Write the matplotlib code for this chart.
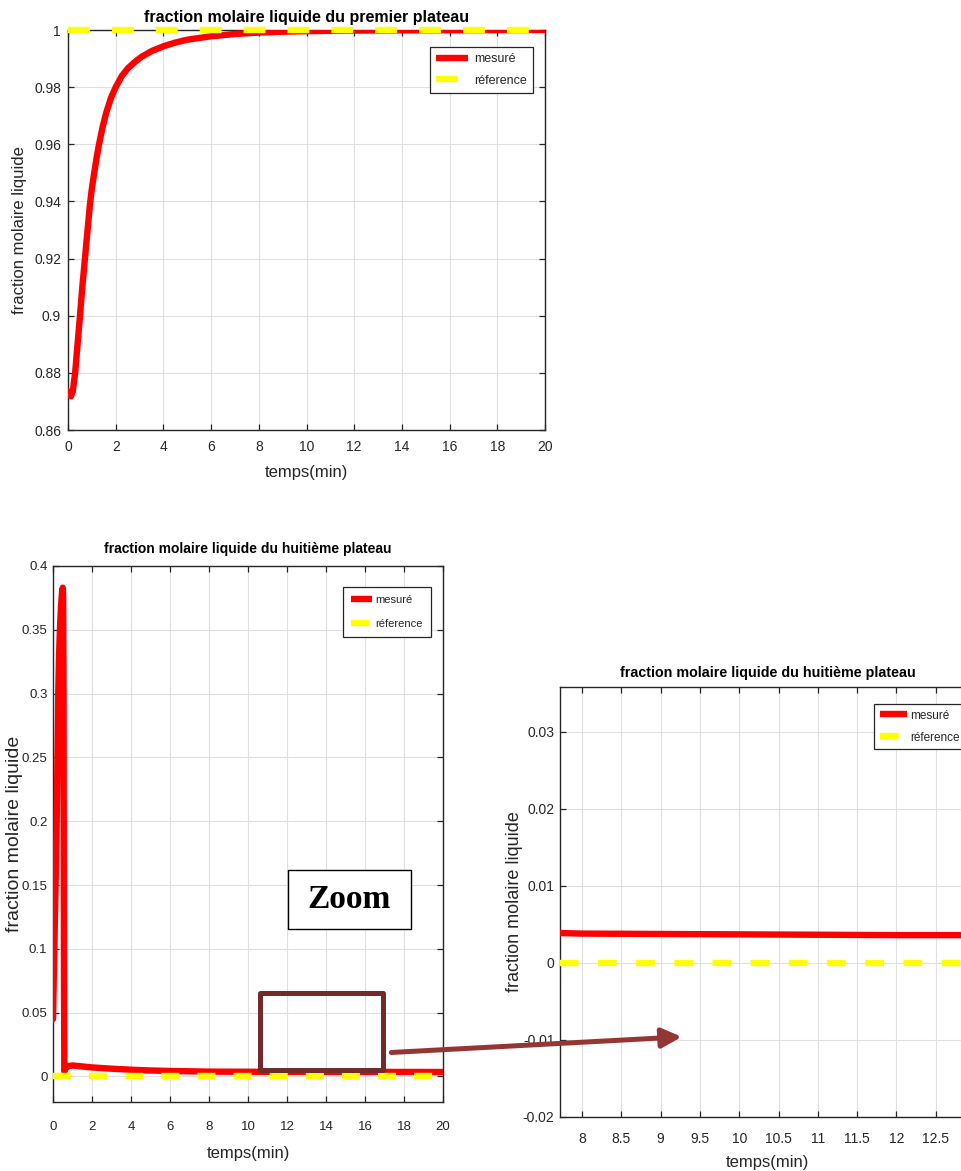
import matplotlib
matplotlib.use("Agg")
import matplotlib.pyplot as plt
from matplotlib import font_manager
from matplotlib.lines import Line2D
from matplotlib.patches import Rectangle, ConnectionPatch
from matplotlib.ticker import FuncFormatter

# ---------------- data ----------------
# liquid mole fraction, first tray (measured response)
t_tray1 = [0, 0.05, 0.12, 0.2, 0.3, 0.4, 0.5, 0.6, 0.71, 0.82, 0.92, 1.0,
           1.1, 1.2, 1.3, 1.45, 1.6, 1.8, 2.0, 2.25, 2.5, 2.8, 3.1, 3.5,
           4.0, 4.5, 5.0, 6.0, 7.0, 8.0, 9.0, 10.0, 12.0, 15.0, 20.0]
x_tray1 = [0.8735, 0.8722, 0.8718, 0.8735, 0.8800, 0.8900, 0.8997, 0.9100,
           0.9200, 0.9300, 0.9390, 0.9445, 0.9500, 0.9553, 0.9600, 0.9660,
           0.9710, 0.9762, 0.9800, 0.9838, 0.9865, 0.9888, 0.9907, 0.9926,
           0.9943, 0.9956, 0.9966, 0.9978, 0.9986, 0.9991, 0.9994, 0.9996,
           0.9998, 0.9999, 1.0000]
ref_tray1 = 1.0

# liquid mole fraction, eighth tray (measured response)
t_tray8 = [0, 0.05, 0.1, 0.15, 0.19, 0.23, 0.27, 0.31, 0.36, 0.41, 0.46,
           0.5, 0.52, 0.54, 0.56, 0.58, 0.65, 0.8, 1.0, 1.3, 1.6, 2.0, 3.0,
           4.0, 5.0, 6.0, 8.0, 10.0, 12.0, 15.0, 20.0]
x_tray8 = [0.045, 0.085, 0.125, 0.165, 0.200, 0.250, 0.300, 0.330, 0.352,
           0.368, 0.379, 0.383, 0.375, 0.300, 0.100, 0.004, 0.0065, 0.0082,
           0.0086, 0.0082, 0.0077, 0.0071, 0.0061, 0.0053, 0.0047, 0.0043,
           0.0038, 0.0037, 0.0036, 0.0036, 0.0035]
ref_tray8 = 0.0

t_span = [0, 20]

xticks_full = list(range(0, 21, 2))
yticks_tray1 = [0.86, 0.88, 0.90, 0.92, 0.94, 0.96, 0.98, 1.0]
yticks_tray8 = [0, 0.05, 0.1, 0.15, 0.2, 0.25, 0.3, 0.35, 0.4]
xticks_zoom = [8, 8.5, 9, 9.5, 10, 10.5, 11, 11.5, 12, 12.5]
yticks_zoom = [-0.02, -0.01, 0, 0.01, 0.02, 0.03]

labels = ["mesuré", "réference"]
title_tray1 = "fraction molaire liquide du premier plateau"
title_tray8 = "fraction molaire liquide du huitième plateau"
xlabel = "temps(min)"
ylabel = "fraction molaire liquide"

# ---------------- fonts ----------------
available = {f.name for f in font_manager.fontManager.ttflist}
REG = "Liberation Sans" if "Liberation Sans" in available else "DejaVu Sans"
SERIF = "Liberation Serif" if "Liberation Serif" in available else "DejaVu Serif"

plt.rcParams["lines.scale_dashes"] = False
plt.rcParams["font.family"] = [REG, "DejaVu Sans"]

INK = "#262626"
GRID = "#e0e0e0"
RED = "#ff0000"
YELLOW = "#ffff00"
LW = 4.6

fmt = FuncFormatter(lambda v, p: f"{v:g}")

W, H = 961, 1171
fig = plt.figure(figsize=(W / 100, H / 100), dpi=100)


def px_axes(left, top, right, bottom):
    return fig.add_axes([left / W, 1 - bottom / H, (right - left) / W,
                         (bottom - top) / H])


def style(ax, size, xpad, ypad):
    ax.set_axisbelow(True)
    ax.grid(True, color=GRID, lw=0.8)
    ax.tick_params(direction="in", top=True, right=True, length=4.5,
                   width=0.9, colors=INK, labelsize=size)
    ax.tick_params(axis="x", pad=xpad)
    ax.tick_params(axis="y", pad=ypad)
    for s in ax.spines.values():
        s.set_color(INK)
        s.set_linewidth(1.0)
    ax.xaxis.set_major_formatter(fmt)
    ax.yaxis.set_major_formatter(fmt)


def add_legend(ax, dash, anchor, size, hlen, tpad, lspace, bpad):
    handles = [Line2D([], [], color=RED, lw=LW, solid_capstyle="butt"),
               Line2D([], [], color=YELLOW, lw=LW, dashes=dash,
                      dash_capstyle="butt")]
    leg = ax.legend(handles, labels, loc="upper right",
                    bbox_to_anchor=anchor, borderaxespad=0, fontsize=size,
                    frameon=True, fancybox=False, edgecolor=INK,
                    framealpha=1, handlelength=hlen, handletextpad=tpad,
                    labelspacing=lspace, borderpad=bpad)
    leg.get_frame().set_linewidth(0.9)
    for txt in leg.get_texts():
        txt.set_color(INK)
    return leg


# ---------- panel 1 : first tray ----------
ax1 = px_axes(68, 30, 545, 430)
dash1 = (15.8, 15.8)
ax1.plot(t_tray1, x_tray1, color=RED, lw=LW, solid_capstyle="round",
         solid_joinstyle="round", zorder=3)
ax1.plot(t_span, [ref_tray1, ref_tray1], color=YELLOW, lw=LW, dashes=dash1,
         dash_capstyle="butt", zorder=4, clip_on=False)
ax1.set_xlim(0, 20)
ax1.set_ylim(0.86, 1.0)
ax1.set_xticks(xticks_full)
ax1.set_yticks(yticks_tray1)
style(ax1, 10, 7, 5)
ax1.set_title(title_tray1, fontsize=11.5, fontweight="bold", color="black",
              pad=6)
ax1.set_xlabel(xlabel, fontsize=12, color=INK, labelpad=8)
ax1.set_ylabel(ylabel, fontsize=12, color=INK)
ax1.yaxis.set_label_coords(-0.086, 0.5)
add_legend(ax1, dash1, (0.975, 0.9575), 9, 2.6, 0.45, 0.75, 0.5)

# ---------- panel 2 : eighth tray ----------
ax2 = px_axes(53, 566, 443, 1102)
dash2 = (13, 13)
ax2.plot(t_tray8, x_tray8, color=RED, lw=LW, solid_capstyle="round",
         solid_joinstyle="round", zorder=3)
ax2.plot(t_span, [ref_tray8, ref_tray8], color=YELLOW, lw=LW, dashes=dash2,
         dash_capstyle="butt", zorder=4)
ax2.set_xlim(0, 20)
ax2.set_ylim(-0.02, 0.4)
ax2.set_xticks(xticks_full)
ax2.set_yticks(yticks_tray8)
style(ax2, 9.5, 14, 4)
ax2.set_title(title_tray8, fontsize=10, fontweight="bold", color="black",
              pad=9)
ax2.set_xlabel(xlabel, fontsize=12, color=INK, labelpad=9)
ax2.set_ylabel(ylabel, fontsize=14, color=INK)
ax2.yaxis.set_label_coords(-0.078, 0.5)
add_legend(ax2, dash2, (0.969, 0.961), 8, 1.9, 0.3, 1.3, 0.7)

# ---------- panel 3 : zoom on the eighth tray ----------
ax3 = px_axes(560, 687, 975, 1117)
dash3 = (8.8, (13.5, 14))
ax3.plot(t_tray8, x_tray8, color=RED, lw=LW, zorder=3)
ax3.plot(t_span, [ref_tray8, ref_tray8], color=YELLOW, lw=LW,
         linestyle=dash3, dash_capstyle="butt", zorder=4)
ax3.set_xlim(7.72, 13.0)
ax3.set_ylim(-0.02, 0.0358)
ax3.set_xticks(xticks_zoom)
ax3.set_yticks(yticks_zoom)
style(ax3, 10, 11, 4)
ax3.set_title(title_tray8, fontsize=10.3, fontweight="bold", color="black",
              pad=7)
ax3.set_xlabel(xlabel, fontsize=12, color=INK, labelpad=6)
ax3.set_ylabel(ylabel, fontsize=13, color=INK)
ax3.yaxis.set_label_coords(-0.09, 0.5)
add_legend(ax3, dash3[1], (0.976, 0.960), 8.5, 2.3, 0.3, 0.85, 0.45)

# ---------- zoom annotation ----------
ax2.add_patch(Rectangle((10.6, 0.0047), 6.3, 0.0610, fill=False,
                        edgecolor="#722b2b", lw=3.6, joinstyle="round",
                        zorder=6, clip_on=False))
ax2.add_patch(Rectangle((12.05, 0.1152), 6.31, 0.0462, facecolor="white",
                        edgecolor="black", lw=1.0, zorder=6))
ax2.text(15.2, 0.1383, "Zoom", family=SERIF, fontweight="bold", fontsize=24,
         ha="center", va="center", zorder=7)
arrow = ConnectionPatch(xyA=(17.35, 0.0188), coordsA=ax2.transData,
                        xyB=(9.27, -0.0096), coordsB=ax3.transData,
                        arrowstyle="-|>,head_length=0.85,head_width=0.42",
                        mutation_scale=14, color="#943634", lw=3.6,
                        shrinkA=0, shrinkB=0, zorder=8)
fig.add_artist(arrow)

fig.savefig("out.png", dpi=100)
